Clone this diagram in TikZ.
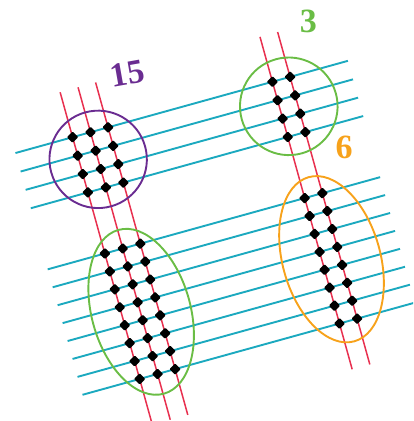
\documentclass[tikz,border=0pt]{standalone}
\usepackage{fontspec}
\setmainfont{Liberation Serif}
\usetikzlibrary{shapes.geometric}
\definecolor{cyanl}{HTML}{1BA9BF}
\definecolor{redl}{HTML}{E8304F}
\definecolor{purplec}{HTML}{6A2C91}
\definecolor{greenc}{HTML}{6ABD45}
\definecolor{orangec}{HTML}{F7A21B}
\tikzset{
  cyanline/.style={draw=cyanl, line width=1.9pt},
  redline/.style={draw=redl, line width=1.5pt},
  ring/.style={line width=1.9pt},
  dot/.style={diamond, fill=black, inner sep=0pt, minimum width=11.5pt, minimum height=11.5pt, rounded corners=1pt},
  numlabel/.style={inner sep=0pt, font=\fontsize{34}{34}\selectfont\bfseries}
}
\begin{document}
\begin{tikzpicture}[x=1pt,y=1pt]
\useasboundingbox (0,0) rectangle (413,-421);
\clip (0,0) rectangle (413,-421);
\begin{scope}[x={(0.9636pt,0.2672pt)},y={(0.2672pt,-0.9636pt)}]
  % cyan lines
  \foreach \v [count=\i] in {151.6,170.8,189.8,208.9,272.3,290.9,309.5,328.1,346.7,365.3,383.9,402.5}{
    \coordinate (cl\i) at (-26,\v);
    \coordinate (cr\i) at (319,\v);
    \draw[cyanline] (cl\i) -- (cr\i);
  }
  % red lines
  \foreach \u [count=\j] in {33.3,51.9,70.1,240.7,259.0}{
    \coordinate (rt\j) at (\u,105);
    \coordinate (rb\j) at (\u,450);
    \draw[redline] (rt\j) -- (rb\j);
  }
  % dots
  \foreach \v [count=\i] in {151.6,170.8,189.8,208.9,272.3,290.9,309.5,328.1,346.7,365.3,383.9,402.5}{
    \foreach \u [count=\j] in {33.3,51.9,70.1,240.7,259.0}{
      \node[dot] (d-\i-\j) at (\u,\v) {};
    }
  }
  % rings
  \draw[ring, purplec] (52,179.8) circle [radius=48.7];
  \draw[ring, greenc] (249.9,179.6) circle [radius=48.8];
  \draw[ring, greenc] (52.7,338.2) ellipse [x radius=49.4, y radius=85];
  \draw[ring, orangec] (250.2,338.4) ellipse [x radius=48.9, y radius=85.2];
\end{scope}
\node[numlabel, text=purplec, rotate=10] (n15) at (127.5,-74) {15};
\node[numlabel, text=greenc] (n3) at (308.3,-21.7) {3};
\node[numlabel, text=orangec] (n6) at (344,-147) {6};
\end{tikzpicture}
\end{document}
